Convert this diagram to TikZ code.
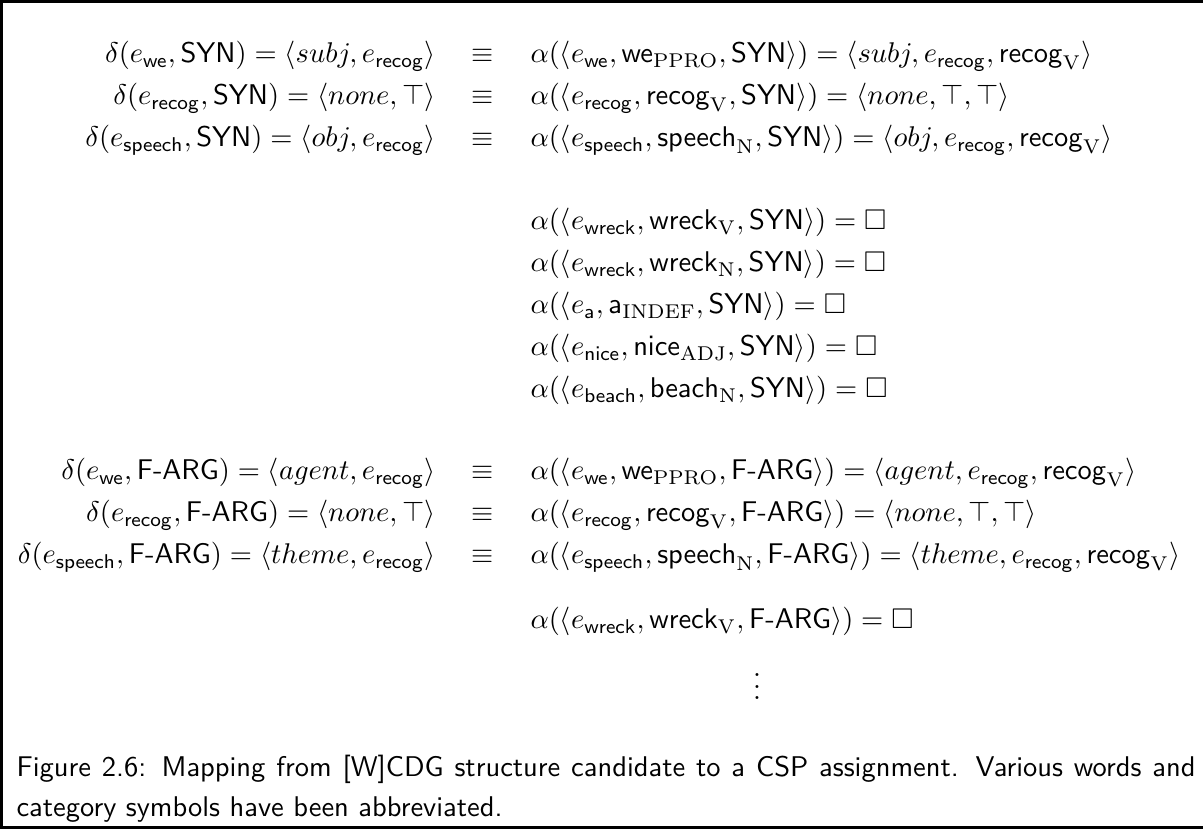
\documentclass[tikz,border=0pt]{standalone}
\usepackage{amsmath,amssymb}
\newcommand{\Ev}[1]{e_{\mathsf{#1}}}
\newcommand{\Wc}[2]{\mathsf{#1}_{\mathrm{#2}}}
\newcommand{\Syn}{\mathsf{SYN}}
\newcommand{\Farg}{\textsf{F-ARG}}
\begin{document}
% one unit = one pixel of the 1203 x 829 page, y counted downwards
\begin{tikzpicture}[x=0.3509pt,y=-0.3509pt,
  lhs/.style={anchor=base east,inner sep=0pt},
  rhs/.style={anchor=base west,inner sep=0pt},
  eqv/.style={anchor=base,inner sep=0pt},
  frame/.style={line width=1.05pt},
  caption/.style={anchor=north west,inner sep=0pt,text width=413.7pt,align=justify,
    font=\sffamily\fontsize{10}{14}\selectfont}]
\useasboundingbox (0,0) rectangle (1203,829);
\draw[frame] (1203,1.5) -- (1.5,1.5) -- (1.5,827.5) -- (1203,827.5);

% syntactic level
\node[lhs] (l1) at (436,63) {$\delta(\Ev{we},\Syn) = \langle subj,\Ev{recog}\rangle$};
\node[eqv] (q1) at (483,63) {$\equiv$};
\node[rhs] (r1) at (530,63) {$\alpha(\langle \Ev{we},\Wc{we}{PPRO},\Syn\rangle) = \langle subj,\Ev{recog},\Wc{recog}{V}\rangle$};
\node[lhs] (l2) at (436,105) {$\delta(\Ev{recog},\Syn) = \langle none,\top\rangle$};
\node[eqv] (q2) at (483,105) {$\equiv$};
\node[rhs] (r2) at (530,105) {$\alpha(\langle \Ev{recog},\Wc{recog}{V},\Syn\rangle) = \langle none,\top,\top\rangle$};
\node[lhs] (l3) at (436,147) {$\delta(\Ev{speech},\Syn) = \langle obj,\Ev{recog}\rangle$};
\node[eqv] (q3) at (483,147) {$\equiv$};
\node[rhs] (r3) at (530,147) {$\alpha(\langle \Ev{speech},\Wc{speech}{N},\Syn\rangle) = \langle obj,\Ev{recog},\Wc{recog}{V}\rangle$};

% unassigned candidates
\node[rhs] (u1) at (530,230) {$\alpha(\langle \Ev{wreck},\Wc{wreck}{V},\Syn\rangle) = \square$};
\node[rhs] (u2) at (530,272) {$\alpha(\langle \Ev{wreck},\Wc{wreck}{N},\Syn\rangle) = \square$};
\node[rhs] (u3) at (530,314) {$\alpha(\langle \Ev{a},\Wc{a}{INDEF},\Syn\rangle) = \square$};
\node[rhs] (u4) at (530,356) {$\alpha(\langle \Ev{nice},\Wc{nice}{ADJ},\Syn\rangle) = \square$};
\node[rhs] (u5) at (530,398) {$\alpha(\langle \Ev{beach},\Wc{beach}{N},\Syn\rangle) = \square$};

% functional argument level
\node[lhs] (l4) at (436,480) {$\delta(\Ev{we},\Farg) = \langle agent,\Ev{recog}\rangle$};
\node[eqv] (q4) at (483,480) {$\equiv$};
\node[rhs] (r4) at (530,480) {$\alpha(\langle \Ev{we},\Wc{we}{PPRO},\Farg\rangle) = \langle agent,\Ev{recog},\Wc{recog}{V}\rangle$};
\node[lhs] (l5) at (436,522) {$\delta(\Ev{recog},\Farg) = \langle none,\top\rangle$};
\node[eqv] (q5) at (483,522) {$\equiv$};
\node[rhs] (r5) at (530,522) {$\alpha(\langle \Ev{recog},\Wc{recog}{V},\Farg\rangle) = \langle none,\top,\top\rangle$};
\node[lhs] (l6) at (436,564) {$\delta(\Ev{speech},\Farg) = \langle theme,\Ev{recog}\rangle$};
\node[eqv] (q6) at (483,564) {$\equiv$};
\node[rhs] (r6) at (530,564) {$\alpha(\langle \Ev{speech},\Wc{speech}{N},\Farg\rangle) = \langle theme,\Ev{recog},\Wc{recog}{V}\rangle$};

\node[rhs] (u6) at (530,629) {$\alpha(\langle \Ev{wreck},\Wc{wreck}{V},\Farg\rangle) = \square$};
\node[inner sep=0pt] (dots) at (757,678) {$\vdots$};

% caption
\node[caption] (cap) at (16,755) {Figure 2.6: Mapping from [W]CDG structure candidate to a CSP assignment. Various words and\linebreak category symbols have been abbreviated.};
\end{tikzpicture}
\end{document}
